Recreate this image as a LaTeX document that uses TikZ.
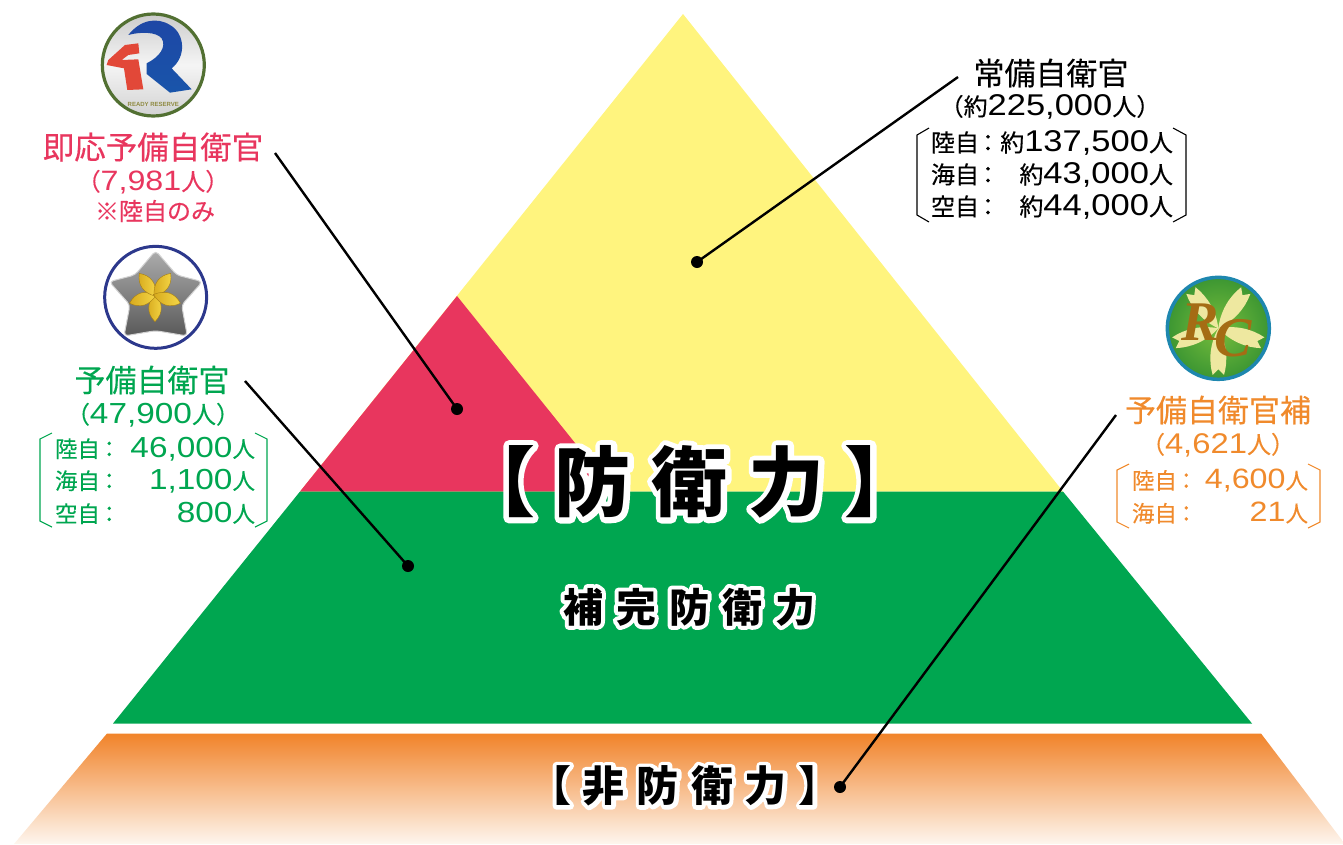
\documentclass[tikz,border=0pt]{standalone}
\usepackage{fontspec}
\setmainfont{Liberation Sans}
\newfontfamily\cjk[FakeBold=0.3]{Noto Sans CJK JP}
\newfontfamily\cjkplain{Noto Sans CJK JP}
\newfontfamily\dig[FakeStretch=1.15]{Liberation Sans}
\newfontfamily\rcfont{Liberation Serif}
\usetikzlibrary{shapes.geometric}
\definecolor{cyel}{HTML}{FFF47E}
\definecolor{cgrn}{HTML}{00A650}
\definecolor{cred}{HTML}{E8365E}
\definecolor{corg}{HTML}{F08A2C}
\definecolor{cgold}{HTML}{A56C14}
\definecolor{olring}{RGB}{82,112,50}
\definecolor{rblueA}{RGB}{30,70,165}
\definecolor{rblueB}{RGB}{25,85,170}
\definecolor{fred}{RGB}{226,72,56}
\definecolor{navyr}{RGB}{44,56,140}
\definecolor{goldA}{RGB}{215,170,30}
\definecolor{goldB}{RGB}{245,215,70}
\definecolor{goldC}{RGB}{165,125,20}
\definecolor{grnA}{RGB}{120,190,60}
\definecolor{grnB}{RGB}{60,150,50}
\definecolor{tealr}{RGB}{30,135,175}
\definecolor{petal}{RGB}{238,232,160}
\newcommand\J[2]{{\fontsize{#1}{#1}\cjk #2}}
\newcommand\D[2]{{\fontsize{#1}{#1}\dig #2}}
\newcommand\rowtxt[3]{\hbox to #1pt{#2\hss #3}}
\newcommand\outlined[2]{\leavevmode\rlap{\special{pdf:code q 2 Tr #1 w 1 j 1 1 1 RG 1 1 1 rg}#2\special{pdf:code Q}}#2}
\newcommand\spaced[2]{{\fontsize{#1}{#1}\cjkplain\bfseries #2}}
\tikzset{
  lab/.style={inner sep=0pt,outer sep=0pt,anchor=center},
  leader/.style={line width=2.4pt,black},
  dotn/.style={circle,fill=black,minimum size=12pt,inner sep=0pt,outer sep=0pt},
  brk/.style={line width=1.1pt},
}
\begin{document}
\begin{tikzpicture}[x=1pt,y=-1pt]
\useasboundingbox (0,0) rectangle (1343,844);
% pyramid
\fill[cyel] (683,14) -- (1063,491.5) -- (300,491.5) -- cycle;
\fill[cred] (457,296) -- (614,491.5) -- (300,491.5) -- cycle;
\fill[cgrn] (300,491.5) -- (1063,491.5) -- (1252,723.5) -- (113,723.5) -- cycle;
\shade[top color=corg!95!red,bottom color=corg!8!white,shading angle=0] (107,733.5) -- (1261,733.5) -- (1345,844) -- (14,844) -- cycle;
% connector ends
\coordinate (e1) at (275,153);
\coordinate (e2) at (245,381);
\coordinate (e3) at (958,77);
\coordinate (e4) at (1116,415);
\node[dotn] (d1) at (457,409) {};
\node[dotn] (d2) at (408,566) {};
\node[dotn] (d3) at (697,262) {};
\node[dotn] (d4) at (840,787) {};
\draw[leader] (e1) -- (d1.center);
\draw[leader] (e2) -- (d2.center);
\draw[leader] (e3) -- (d3.center);
\draw[leader] (e4) -- (d4.center);
% central labels
\node[lab] (t1) at (690,482) {\outlined{11}{\spaced{76}{【\kern20pt 防\kern21pt 衛\kern21pt 力\kern20pt 】}}};
\node[lab] (t2) at (689,607) {\outlined{8}{\spaced{40}{補\kern13pt 完\kern13pt 防\kern13pt 衛\kern13pt 力}}};
\node[lab] (t3) at (685,786) {\outlined{8}{\spaced{42}{【\kern12pt 非\kern12pt 防\kern12pt 衛\kern12pt 力\kern12pt 】}}};
% black labels
\node[lab] (k1) at (1051,73) {\J{31}{常備自衛官}};
\node[lab] (k2) at (1050,107) {\J{24}{（約}\D{30}{225,000}\J{24}{人）}};
\node[lab] (k3) at (1052,143) {\rowtxt{242}{\J{24}{陸自\kern-3pt ：}}{\J{24}{約}\D{30}{137,500}\J{24}{人}}};
\node[lab] (k4) at (1052,175) {\rowtxt{242}{\J{24}{海自\kern-3pt ：}}{\J{24}{約}\D{30}{43,000}\J{24}{人}}};
\node[lab] (k5) at (1052,207) {\rowtxt{242}{\J{24}{空自\kern-3pt ：}}{\J{24}{約}\D{30}{44,000}\J{24}{人}}};
\draw[brk] (929,128) -- (917,135) -- (917,215) -- (929,222);
\draw[brk] (1173,128) -- (1186,135) -- (1186,215) -- (1173,222);
% red labels
\node[lab,text=cred] (r1) at (153,147) {\J{31.5}{即応予備自衛官}};
\node[lab,text=cred] (r2) at (153,182) {\J{24}{（}\D{28}{7,981}\J{24}{人）}};
\node[lab,text=cred] (r3) at (155,211) {\J{24}{※陸自のみ}};
% green labels
\node[lab,text=cgrn] (g1) at (152,380) {\J{31}{予備自衛官}};
\node[lab,text=cgrn] (g2) at (153,415) {\J{24}{（}\D{29}{47,900}\J{24}{人）}};
\node[lab,text=cgrn] (g3) at (155,449) {\rowtxt{200}{\J{22.5}{陸自\kern-2pt ：}}{\D{29}{46,000}\J{22.5}{人}}};
\node[lab,text=cgrn] (g4) at (155,481) {\rowtxt{200}{\J{22.5}{海自\kern-2pt ：}}{\D{29}{1,100}\J{22.5}{人}}};
\node[lab,text=cgrn] (g5) at (155,513) {\rowtxt{200}{\J{22.5}{空自\kern-2pt ：}}{\D{29}{800}\J{22.5}{人}}};
\draw[brk,cgrn] (52,433) -- (40,439) -- (40,521) -- (52,527);
\draw[brk,cgrn] (255,433) -- (267,439) -- (267,521) -- (255,527);
% orange labels
\node[lab,text=corg] (o1) at (1218,410) {\J{31}{予備自衛官補}};
\node[lab,text=corg] (o2) at (1218,445) {\J{24}{（}\D{28.5}{4,621}\J{24}{人）}};
\node[lab,text=corg] (o3) at (1220,481) {\rowtxt{176}{\J{22.5}{陸自\kern-2pt ：}}{\D{28}{4,600}\J{22.5}{人}}};
\node[lab,text=corg] (o4) at (1220,513) {\rowtxt{176}{\J{22.5}{海自\kern-2pt ：}}{\D{28}{21}\J{22.5}{人}}};
\draw[brk,corg] (1129,464) -- (1117,470) -- (1117,522) -- (1129,528);
\draw[brk,corg] (1308,464) -- (1320,470) -- (1320,522) -- (1308,528);
% badge 1 (zoom coordinates)
\begin{scope}[x=0.3333pt,y=-0.3333pt]
\shade[top color=gray!40,bottom color=gray!35,middle color=gray!8,draw=none] (460,195) circle (153);
\draw[line width=3.2pt,color=olring] (460,195) circle (153);
\shade[top color=rblueA,bottom color=rblueB] (385,105) .. controls (420,60) and (470,50) .. (510,75)
  .. controls (555,100) and (560,170) .. (515,205) -- (575,268) -- (510,278) -- (440,222) -- (440,190)
  .. controls (480,170) and (500,140) .. (485,115) .. controls (470,95) and (420,95) .. (385,105) -- cycle;
\fill[fred] (325,180) -- (375,135) -- (415,130) -- (418,160) -- (385,165) -- (365,180) -- (415,178) -- (430,268) -- (382,270) -- (372,205) -- (320,195) -- cycle;
\node[lab,text=olive!55!gray] (b1t) at (460,312) {\fontsize{6}{6}\selectfont\bfseries READY RESERVE};
\end{scope}
% badge 2
\begin{scope}[x=0.3333pt,y=-0.3333pt,yshift=-240pt]
\fill[white] (467,172) circle (153);
\draw[line width=3pt,color=navyr] (467,172) circle (153);
\shade[top color=gray!65,middle color=gray!85,bottom color=gray!70!black,draw=gray!35,line width=1pt,rounded corners=4pt]
 (467,32) -- (530,105) -- (607,125) -- (545,195) -- (562,288) -- (467,272) -- (372,288) -- (390,195) -- (328,125) -- (405,105) -- cycle;
\foreach \a in {90,162,234,306,18}{
 \shade[rotate around={-\a:(465,165)},left color=goldA,right color=goldB,draw=goldC,line width=.4pt]
  (460,165) .. controls (490,140) and (520,140) .. (545,165) .. controls (520,190) and (490,190) .. (460,165) -- cycle;
}
\end{scope}
% badge 3
\begin{scope}[x=0.3333pt,y=-0.3333pt,xshift=1100pt,yshift=-280pt]
\shade[inner color=grnA,outer color=grnB] (355,145) circle (153);
\draw[line width=3.5pt,color=tealr] (355,145) circle (153);
\foreach \a in {-90,-18,54,126,198}{
 \fill[rotate around={\a:(355,145)},color=petal] (355,145) .. controls (400,120) and (450,115) .. (495,128) -- (478,145) -- (495,162) .. controls (450,175) and (400,170) .. (355,145) -- cycle;
}
\node[lab,text=cgold] (rcr) at (302,125) {\fontsize{56}{56}\rcfont\bfseries\itshape R};
\node[lab,text=cgold] (rcc) at (400,175) {\fontsize{56}{56}\rcfont\bfseries\itshape C};
\end{scope}
\end{tikzpicture}
\end{document}
